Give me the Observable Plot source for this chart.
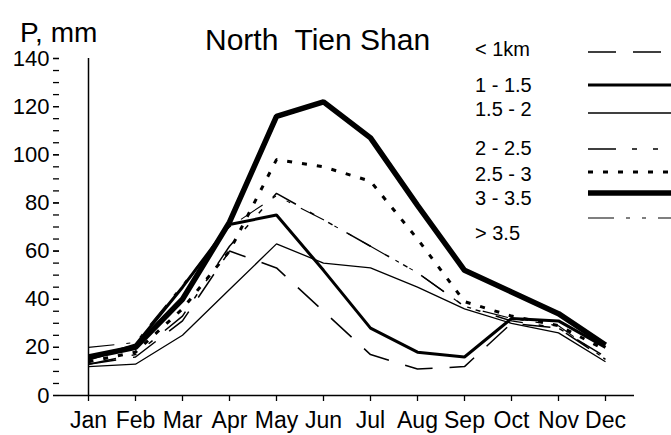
<!DOCTYPE html>
<html>
<head>
<meta charset="utf-8">
<script src="https://cdn.jsdelivr.net/npm/d3@7"></script>
<script src="https://cdn.jsdelivr.net/npm/@observablehq/plot@0.6"></script>
<style>
  html, body { margin: 0; padding: 0; background: #fff; }
  #chart svg { display: block; }
</style>
</head>
<body>
<div id="chart"></div>
<script>
// Monthly precipitation (mm) in North Tien Shan by altitude band
const months = ["Jan","Feb","Mar","Apr","May","Jun","Jul","Aug","Sep","Oct","Nov","Dec"];

const bandBelow1  = [13, 16, 31, 60, 53, 35, 17, 11, 12, 30, 28, 15];
const band1to15   = [15, 21, 45, 71, 75, 52, 28, 18, 16, 32, 31, 20];
const band15to2   = [12, 13, 25, 44, 63, 55, 53, 45, 36, 30, 26, 14];
const band2to25   = [13, 17, 33, 62, 84, 73, 62, 51, 37, 31, 28, 16];
const band25to3   = [14, 18, 36, 60, 98, 95, 89, 65, 39, 33, 29, 19];
const band3to35   = [16, 20, 40, 72, 116, 122, 107, 79, 52, 43, 34, 21];
const bandAbove35 = [20, 22, 46, 70, 83, 73, 62, 51, 37, 32, 29, 15];

const bandNames = ["< 1km", "1 - 1.5", "1.5 - 2", "2 - 2.5", "2.5 - 3", "3 - 3.5", "> 3.5"];
const bandValues = [bandBelow1, band1to15, band15to2, band2to25, band25to3, band3to35, bandAbove35];

const yMajor = d3.range(0, 141, 20);
const yMinor = d3.range(0, 141, 5);

// line style per band
const styles = {
  "< 1km":   {strokeWidth: 1.5, strokeDasharray: "28,17"},
  "1 - 1.5": {strokeWidth: 3,   strokeDasharray: null},
  "1.5 - 2": {strokeWidth: 1.3, strokeDasharray: null},
  "2 - 2.5": {strokeWidth: 1.5, strokeDasharray: "28,16,5,16,5,16"},
  "2.5 - 3": {strokeWidth: 3,   strokeDasharray: "5,10"},
  "3 - 3.5": {strokeWidth: 5.5, strokeDasharray: null},
  "> 3.5":   {strokeWidth: 1.1, strokeDasharray: "26,12,4,12,4,12"}
};
const drawOrder = ["< 1km", "1.5 - 2", "2 - 2.5", "> 3.5", "2.5 - 3", "1 - 1.5", "3 - 3.5"];

const rows = bandNames.flatMap((band, i) =>
  months.map((m, j) => ({band, month: m, value: bandValues[i][j]})));

const font = "Liberation Sans, Arial, Helvetica, sans-serif";

const chart = Plot.plot({
  width: 671,
  height: 435,
  marginLeft: 59,
  marginRight: 37,
  marginTop: 58,
  marginBottom: 40,
  style: {fontFamily: font, background: "#fff", color: "#000"},
  x: {type: "point", domain: months, label: null},
  y: {domain: [0, 140], label: null},
  marks: [
    Plot.axisY(yMinor, {tickSize: 6, tickFormat: () => "", strokeWidth: 1.3}),
    Plot.axisY(yMajor, {tickSize: 6, tickPadding: 4, fontSize: 22, strokeWidth: 1.3}),
    Plot.axisX({tickSize: 6, tickPadding: 10, fontSize: 23, strokeWidth: 1.3}),
    Plot.ruleY([0], {strokeWidth: 1.5}),
    Plot.ruleX([months[0]], {y1: 0, y2: 140, strokeWidth: 1.5}),
    ...drawOrder.map(band => Plot.line(rows.filter(d => d.band === band), {
      x: "month",
      y: "value",
      stroke: "#000",
      strokeWidth: styles[band].strokeWidth,
      strokeDasharray: styles[band].strokeDasharray,
      strokeLinejoin: "miter",
      strokeLinecap: "butt"
    }))
  ]
});

document.getElementById("chart").appendChild(chart);

// titles and legend
const svg = d3.select(chart);
svg.append("text")
  .attr("x", 20).attr("y", 42)
  .attr("text-anchor", "start")
  .attr("font-family", font).attr("font-size", 28)
  .style("white-space", "pre")
  .text("P, mm");
svg.append("text")
  .attr("x", 205).attr("y", 50)
  .attr("text-anchor", "start")
  .attr("font-family", font).attr("font-size", 30)
  .style("white-space", "pre")
  .text("North  Tien Shan");

const legendTextY = [56, 92, 116, 155, 181, 205, 240];
const legendLineY = [52, 85, 113, 149, 172, 193, 218];
const legend = svg.append("g").attr("text-anchor", "start");
bandNames.forEach((band, i) => {
  legend.append("text")
    .attr("x", 475).attr("y", legendTextY[i])
    .attr("font-family", font).attr("font-size", 20)
    .style("white-space", "pre")
    .text(band);
  legend.append("line")
    .attr("x1", 588).attr("x2", 671)
    .attr("y1", legendLineY[i]).attr("y2", legendLineY[i])
    .attr("stroke", "#000")
    .attr("stroke-width", styles[band].strokeWidth)
    .attr("stroke-dasharray", styles[band].strokeDasharray);
});
</script>
</body>
</html>
